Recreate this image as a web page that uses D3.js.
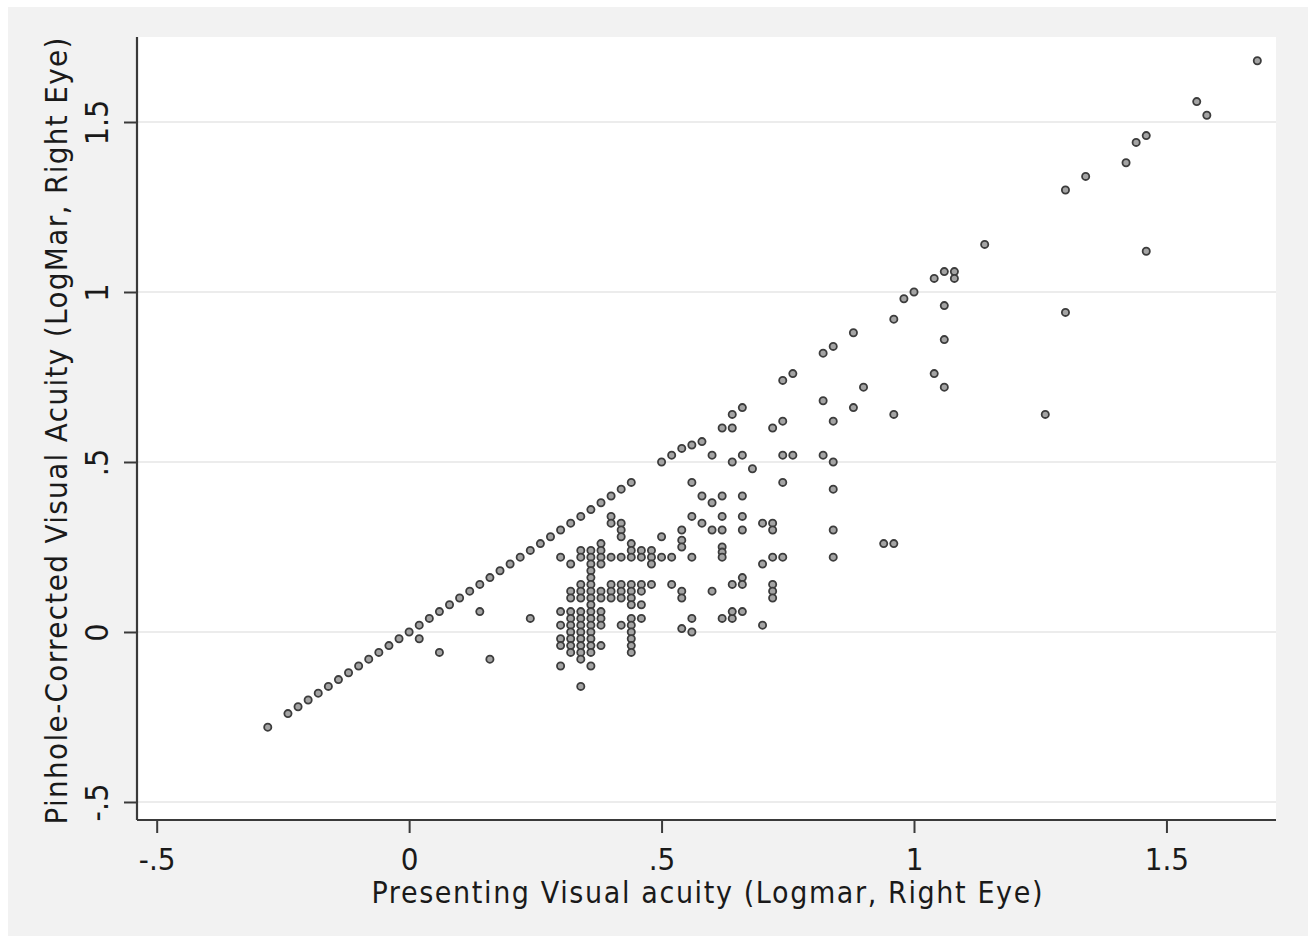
<!DOCTYPE html>
<html>
<head>
<meta charset="utf-8">
<script src="https://cdn.jsdelivr.net/npm/d3@7"></script>
<style>
  html, body { margin: 0; padding: 0; background: #ffffff; }
  svg { display: block; }
  text { font-family: "DejaVu Sans Condensed", "Liberation Sans Narrow", sans-serif; fill: #1a1a1a; }
</style>
</head>
<body>
<svg id="chart" width="1316" height="943"></svg>
<script>
// ---- Data (LogMAR, right eye) ----
const xTickValues = [-0.5, 0, 0.5, 1, 1.5];
const xTickLabels = ["-.5", "0", ".5", "1", "1.5"];
const yTickValues = [-0.5, 0, 0.5, 1, 1.5];
const yTickLabels = ["-.5", "0", ".5", "1", "1.5"];
const xTitle = "Presenting Visual acuity (Logmar, Right Eye)";
const yTitle = "Pinhole-Corrected Visual Acuity (LogMar, Right Eye)";

// points where presenting = pinhole (lower diagonal)
const diagPresenting = [-0.28,-0.24,-0.22,-0.20,-0.18,-0.16,-0.14,-0.12,-0.10,-0.08,-0.06,-0.04,-0.02,0.00,0.02,0.04,0.06,0.08,0.10,0.12,0.14,0.16,0.18,0.20,0.22,0.24,0.26,0.28,0.30,0.32,0.34,0.36,0.38,0.40,0.42,0.44];
const diagPinhole    = [-0.28,-0.24,-0.22,-0.20,-0.18,-0.16,-0.14,-0.12,-0.10,-0.08,-0.06,-0.04,-0.02,0.00,0.02,0.04,0.06,0.08,0.10,0.12,0.14,0.16,0.18,0.20,0.22,0.24,0.26,0.28,0.30,0.32,0.34,0.36,0.38,0.40,0.42,0.44];

// dense cluster (presenting 0.30 - 0.48)
const clusterPresenting = [
  0.02,0.06,0.14,0.16,0.24,
  0.30,0.30,0.30,0.30,0.30,0.30,
  0.32,0.32,0.32,0.32,0.32,0.32,0.32,0.32,0.32,0.32,
  0.34,0.34,0.34,0.34,0.34,0.34,0.34,0.34,0.34,0.34,0.34,0.34,0.34,0.34,
  0.36,0.36,0.36,0.36,0.36,0.36,0.36,0.36,0.36,0.36,0.36,0.36,0.36,0.36,0.36,0.36,0.36,
  0.38,0.38,0.38,0.38,0.38,0.38,0.38,0.38,0.38,0.38,
  0.40,0.40,0.40,0.40,0.40,0.40,
  0.42,0.42,0.42,0.42,0.42,0.42,0.42,0.42,
  0.44,0.44,0.44,0.44,0.44,0.44,0.44,0.44,0.44,0.44,0.44,0.44,0.44,
  0.46,0.46,0.46,0.46,0.46,0.46,
  0.48,0.48,0.48,0.48
];
const clusterPinhole = [
  -0.02,-0.06,0.06,-0.08,0.04,
  0.22,0.06,0.02,-0.02,-0.04,-0.10,
  0.20,0.12,0.10,0.06,0.04,0.02,0.00,-0.02,-0.04,-0.06,
  0.24,0.22,0.14,0.12,0.10,0.06,0.04,0.02,0.00,-0.02,-0.04,-0.06,-0.08,-0.16,
  0.24,0.22,0.20,0.18,0.16,0.14,0.12,0.10,0.08,0.06,0.04,0.02,0.00,-0.02,-0.04,-0.06,-0.10,
  0.26,0.24,0.22,0.20,0.12,0.10,0.06,0.04,0.02,-0.04,
  0.34,0.32,0.22,0.14,0.12,0.10,
  0.32,0.30,0.28,0.22,0.14,0.12,0.10,0.02,
  0.26,0.24,0.22,0.14,0.12,0.10,0.08,0.04,0.02,0.00,-0.02,-0.04,-0.06,
  0.24,0.22,0.14,0.12,0.08,0.04,
  0.24,0.22,0.20,0.14
];

// points with presenting > 0.48
const upperPresenting = [
  0.50,0.52,0.54,0.56,0.58,0.60,0.62,0.64,0.64,0.66,0.74,0.76,0.82,0.84,0.88,0.96,0.98,1.00,1.04,1.06,1.08,1.08,1.14,1.30,1.34,1.42,1.44,1.46,1.56,1.58,1.68,
  1.06,1.30,1.06,1.04,1.06,1.26,1.46,0.96,0.90,0.88,0.82,0.84,0.72,0.74,
  0.82,0.84,0.74,0.76,0.64,0.66,0.68,
  0.56,0.74,0.84,0.58,0.60,0.62,0.66,
  0.56,0.58,0.60,0.62,0.62,0.66,0.66,0.70,0.72,0.72,0.84,0.94,0.96,
  0.50,0.54,0.54,0.54,0.50,0.52,0.56,0.62,0.62,0.62,0.70,0.72,0.74,0.84,
  0.52,0.54,0.54,0.60,0.64,0.66,0.66,0.72,0.72,0.72,
  0.56,0.54,0.56,0.62,0.64,0.64,0.66,0.70
];
const upperPinhole = [
  0.50,0.52,0.54,0.55,0.56,0.52,0.60,0.60,0.64,0.66,0.74,0.76,0.82,0.84,0.88,0.92,0.98,1.00,1.04,1.06,1.06,1.04,1.14,1.30,1.34,1.38,1.44,1.46,1.56,1.52,1.68,
  0.96,0.94,0.86,0.76,0.72,0.64,1.12,0.64,0.72,0.66,0.68,0.62,0.60,0.62,
  0.52,0.50,0.52,0.52,0.50,0.52,0.48,
  0.44,0.44,0.42,0.40,0.38,0.40,0.40,
  0.34,0.32,0.30,0.34,0.30,0.34,0.30,0.32,0.32,0.30,0.30,0.26,0.26,
  0.28,0.30,0.27,0.25,0.22,0.22,0.22,0.25,0.235,0.22,0.20,0.22,0.22,0.22,
  0.14,0.12,0.10,0.12,0.14,0.16,0.14,0.14,0.12,0.10,
  0.04,0.01,0.00,0.04,0.04,0.06,0.06,0.02
];

// ---- Layout ----
const FONT = '"DejaVu Sans Condensed", "Liberation Sans Narrow", sans-serif';
const plot = { left: 137, right: 1276, top: 37, bottom: 820 };
const svg = d3.select("#chart");

// outer graph region
svg.append("rect").attr("x", 8).attr("y", 7).attr("width", 1300).attr("height", 929).attr("fill", "#f2f2f2");
// plot region
svg.append("rect").attr("x", plot.left).attr("y", plot.top)
  .attr("width", plot.right - plot.left).attr("height", plot.bottom - plot.top).attr("fill", "#ffffff");

const x = d3.scaleLinear().domain([-0.539, 1.717]).range([plot.left, plot.right]);
const y = d3.scaleLinear().domain([-0.553, 1.75]).range([plot.bottom, plot.top]);

// gridlines
svg.append("g").selectAll("line").data(yTickValues).join("line")
  .attr("x1", plot.left).attr("x2", plot.right)
  .attr("y1", d => y(d)).attr("y2", d => y(d))
  .attr("stroke", "#ececec").attr("stroke-width", 2);

// points
const points = [];
[[diagPresenting, diagPinhole], [clusterPresenting, clusterPinhole], [upperPresenting, upperPinhole]].forEach(([xs, ys]) => {
  xs.forEach((v, i) => points.push([v, ys[i]]));
});
svg.append("g").selectAll("circle").data(points).join("circle")
  .attr("cx", d => x(d[0])).attr("cy", d => y(d[1])).attr("r", 3.6)
  .attr("fill", "#a4a4a4").attr("stroke", "#3c3c3c").attr("stroke-width", 1.8);

// axes
const xAxis = d3.axisBottom(x).tickValues(xTickValues).tickFormat((d, i) => xTickLabels[i]).tickSize(13).tickSizeOuter(0);
const gx = svg.append("g").attr("transform", `translate(0,${plot.bottom})`).call(xAxis);
gx.select(".domain").attr("stroke", "#3a3a3a").attr("stroke-width", 2.2).attr("d", `M${plot.left},0H${plot.right}`);
gx.selectAll(".tick line").attr("stroke", "#3a3a3a").attr("stroke-width", 2);
gx.selectAll(".tick text").attr("font-size", 31).attr("dy", null).attr("y", 50).attr("fill", "#1a1a1a")
  .style("font-family", FONT);

const yAxis = d3.axisLeft(y).tickValues(yTickValues).tickFormat((d, i) => yTickLabels[i]).tickSize(13).tickSizeOuter(0);
const gy = svg.append("g").attr("transform", `translate(${plot.left},0)`).call(yAxis);
gy.select(".domain").attr("stroke", "#3a3a3a").attr("stroke-width", 2.2).attr("d", `M0,${plot.bottom}V${plot.top}`);
gy.selectAll(".tick line").attr("stroke", "#3a3a3a").attr("stroke-width", 2);
gy.selectAll(".tick text").attr("font-size", 32).attr("x", null).attr("dy", null)
  .attr("text-anchor", "middle").attr("transform", "translate(-29,0) rotate(-90)").attr("fill", "#1a1a1a")
  .style("font-family", FONT);

// titles
svg.append("text").attr("x", 707).attr("y", 903)
  .attr("text-anchor", "middle").attr("font-size", 30)
  .attr("textLength", 671).attr("lengthAdjust", "spacing").text(xTitle);
svg.append("text").attr("transform", `translate(67,431) rotate(-90)`)
  .attr("text-anchor", "middle").attr("font-size", 31)
  .attr("textLength", 787).attr("lengthAdjust", "spacing").text(yTitle);
</script>
</body>
</html>
